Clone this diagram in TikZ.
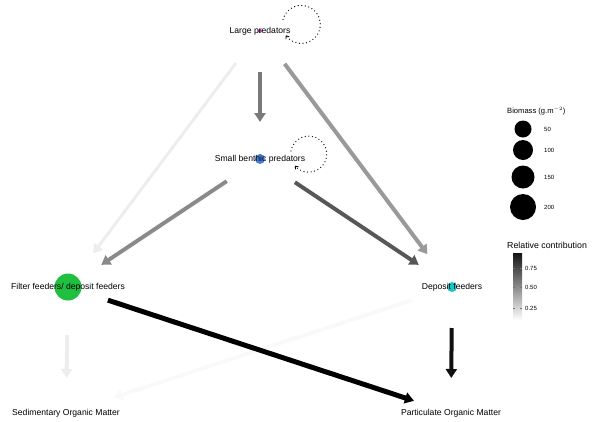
\documentclass[tikz,border=0pt]{standalone}
\usepackage{fontspec}
\setmainfont{Liberation Sans}
\usepackage{tikz}
\usetikzlibrary{arrows.meta}

\definecolor{lpcol}{HTML}{CC44CC}
\definecolor{sbpcol}{HTML}{4A80DA}
\definecolor{ffcol}{HTML}{1FBF3F}
\definecolor{dfcol}{HTML}{20C6C6}

\tikzset{
	dot/.style = {circle, inner sep = 0pt},
	lbl/.style = {inner sep = 0pt, font = \fontsize{8.6}{10}\selectfont},
	legtxt/.style = {inner sep = 0pt, anchor = west, font = \fontsize{6}{7}\selectfont},
	flow/.style = {line width = 4pt, -{Triangle[length = 9pt, width = 11pt]}},
	selfloop/.style = {line width = 1.3pt, line cap = round, dash pattern = on 0pt off 3.6pt, -{Straight Barb[length = 2.5pt, width = 4pt, line width = 0.8pt]}}
}

\begin{document}
\begin{tikzpicture}[x = 1pt, y = -1pt]

	\useasboundingbox (0,0) rectangle (593,421);

	% nodes
	\node[dot, fill = lpcol, minimum size = 4pt] (lp) at (260,31) {};
	\node[dot, fill = sbpcol, minimum size = 10pt] (sbp) at (260,159) {};
	\node[dot, fill = ffcol, minimum size = 27pt] (ff) at (68,287) {};
	\node[dot, fill = dfcol, minimum size = 10pt] (df) at (452,287) {};
	\coordinate (som) at (66,413);
	\coordinate (pom) at (451,413);

	\node[lbl] (lplab) at (lp) {Large predators};
	\node[lbl] (sbplab) at (sbp) {Small benthic predators};
	\node[lbl] (fflab) at (ff) {Filter feeders/ deposit feeders};
	\node[lbl] (dflab) at (df) {Deposit feeders};
	\node[lbl] (somlab) at (som) {Sedimentary Organic Matter};
	\node[lbl] (pomlab) at (pom) {Particulate Organic Matter};

	% flows
	\draw[flow, draw = black!2.5, shorten <= 42pt, shorten >= 50pt] (df.center) -- (som);
	\draw[flow, line width = 3pt, draw = black!7, shorten <= 40pt, shorten >= 42pt] (lp.center) -- (ff.center);
	\draw[flow, draw = black!7, shorten <= 48pt, shorten >= 35pt] (ff.center) -- (som);
	\draw[flow, draw = black!52, shorten <= 41pt, shorten >= 37pt] (lp.center) -- (sbp.center);
	\draw[flow, draw = black!40, shorten <= 41pt, shorten >= 41pt] (lp.center) -- (df.center);
	\draw[flow, draw = black!46, shorten <= 40pt, shorten >= 40pt] (sbp.center) -- (ff.center);
	\draw[flow, draw = black!66, shorten <= 42pt, shorten >= 40pt] (sbp.center) -- (df.center);
	\draw[flow, line width = 5pt, draw = black, shorten <= 42pt, shorten >= 39pt] (ff.center) -- (pom);
	\draw[flow, draw = black!94, shorten <= 41pt, shorten >= 35pt] (df.center) -- (pom);

	% self loops
	\draw[selfloop] ([shift = {(23,-11.5)}]lp.center) arc[start angle = 165, end angle = -145, radius = 19pt];
	\draw[selfloop] ([shift = {(31,-8)}]sbp.center) arc[start angle = 170, end angle = -140, radius = 18pt];

	% biomass legend
	\node[inner sep = 0pt, anchor = west, font = \fontsize{7.6}{9}\selectfont] (biotitle) at (507,111) {Biomass (g.m$^{-2}$)};
	\node[dot, fill = black, minimum size = 17pt] (b1) at (523,129) {};
	\node[dot, fill = black, minimum size = 20pt] (b2) at (523,150) {};
	\node[dot, fill = black, minimum size = 23pt] (b3) at (523,177) {};
	\node[dot, fill = black, minimum size = 26pt] (b4) at (523,207) {};
	\node[legtxt] (b1lab) at (544,129) {50};
	\node[legtxt] (b2lab) at (544,150) {100};
	\node[legtxt] (b3lab) at (544,177) {150};
	\node[legtxt] (b4lab) at (544,207) {200};

	% contribution legend
	\node[inner sep = 0pt, anchor = west, font = \fontsize{8.8}{10}\selectfont] (ctitle) at (507,245) {Relative contribution};
	\shade[top color = black!92, bottom color = white] (513,253) rectangle (522,320);
	\foreach \yy/\vv in {268/0.75, 287/0.50, 308/0.25}{
		\draw[black!55, line width = 0.5pt] (513,\yy) -- (515,\yy) (520,\yy) -- (522,\yy);
		\node[legtxt] at (525,\yy) {\vv};
	}

\end{tikzpicture}
\end{document}
